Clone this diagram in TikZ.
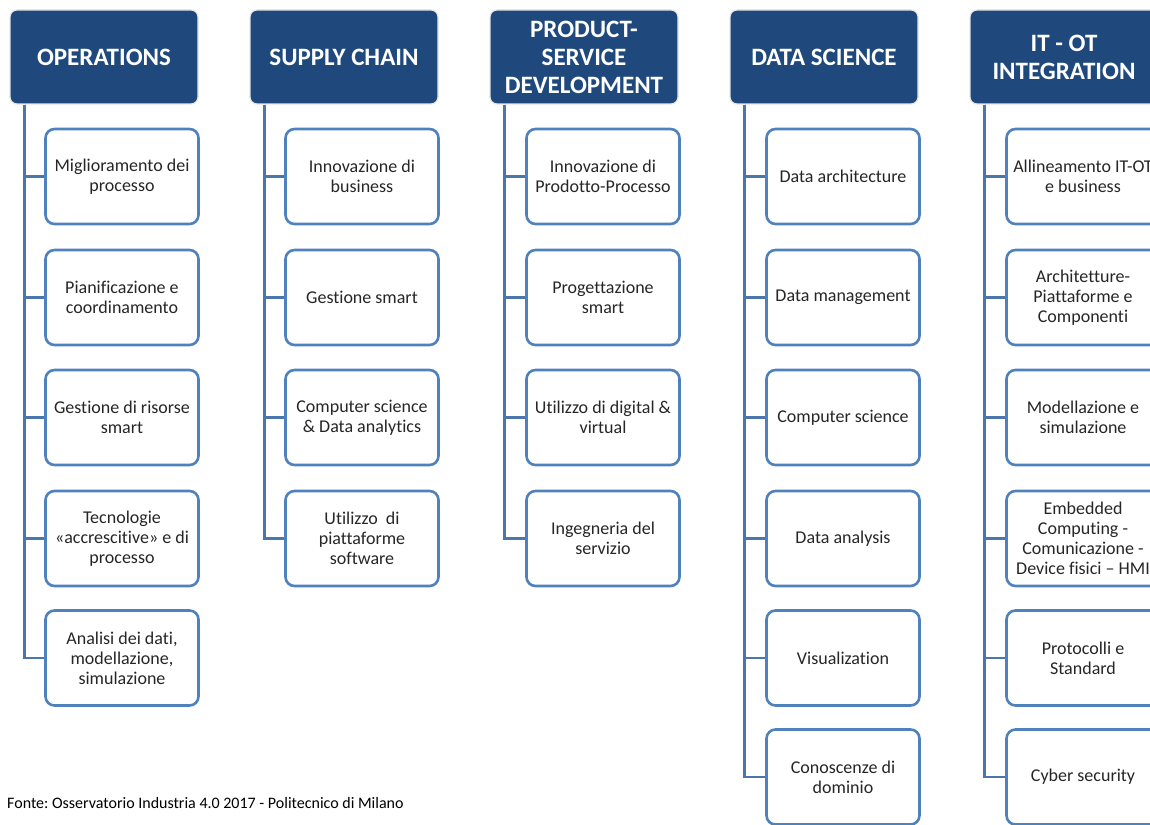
\documentclass[tikz,border=0pt]{standalone}
\usepackage{fontspec}
\setmainfont{Carlito}[Ligatures=NoCommon]
\frenchspacing
\definecolor{hdr}{HTML}{1F497D}
\definecolor{bord}{HTML}{4F81BD}
\definecolor{lnk}{HTML}{4A76AE}
\definecolor{txt}{HTML}{262626}
\begin{document}
\begin{tikzpicture}[x=1pt,y=-1pt,
 hdrbox/.style={rectangle, rounded corners=7pt, fill=hdr, draw=gray!20, line width=1.2pt, minimum width=188pt, minimum height=94pt, text=white, font=\fontsize{25}{28}\selectfont\bfseries, align=center, inner sep=0pt},
 item/.style={rectangle, rounded corners=9pt, fill=white, draw=bord, line width=2.6pt, minimum width=153pt, minimum height=95pt, text=txt, font=\fontsize{18}{20}\selectfont, align=center, inner sep=0pt},
 conn/.style={draw=lnk, line width=2.6pt}]
\useasboundingbox (0,0) rectangle (1150,824);
\clip (0,0) rectangle (1150,824);
% headers
\node[hdrbox] (h1) at (104,57) {OPERATIONS};
\node[hdrbox] (h2) at (344,57) {SUPPLY CHAIN};
\node[hdrbox] (h3) at (584,57) {PRODUCT-\\SERVICE\\DEVELOPMENT};
\node[hdrbox] (h4) at (824,57) {DATA SCIENCE};
\node[hdrbox] (h5) at (1064,57) {IT - OT\\INTEGRATION};
% OPERATIONS
\node[item] (a1) at (122,176.5) {Miglioramento dei\\processo};
\node[item] (a2) at (122,297.5) {Pianificazione e\\coordinamento};
\node[item] (a3) at (122,417.5) {Gestione di risorse\\smart};
\node[item] (a4) at (122,538.5) {Tecnologie\\«accrescitive» e di\\processo};
\node[item] (a5) at (122,658) {Analisi dei dati,\\modellazione,\\simulazione};
% SUPPLY CHAIN
\node[item] (b1) at (362,176.5) {Innovazione di\\business};
\node[item] (b2) at (362,297.5) {Gestione smart};
\node[item] (b3) at (362,417.5) {Computer science\\\& Data analytics};
\node[item] (b4) at (362,538.5) {Utilizzo~~di\\piattaforme\\software};
% PRODUCT-SERVICE
\node[item] (c1) at (603,176.5) {Innovazione di\\Prodotto-Processo};
\node[item] (c2) at (603,297.5) {Progettazione\\smart};
\node[item] (c3) at (603,417.5) {Utilizzo di digital \&\\virtual};
\node[item] (c4) at (603,538.5) {Ingegneria del\\servizio};
% DATA SCIENCE
\node[item] (d1) at (843,176.5) {Data architecture};
\node[item] (d2) at (843,297.5) {Data management};
\node[item] (d3) at (843,417.5) {Computer science};
\node[item] (d4) at (843,538.5) {Data analysis};
\node[item] (d5) at (843,658) {Visualization};
\node[item] (d6) at (843,777) {Conoscenze di\\dominio};
% IT-OT
\node[item] (e1) at (1083,176.5) {Allineamento IT-OT\\e business};
\node[item] (e2) at (1083,297.5) {Architetture-\\Piattaforme e\\Componenti};
\node[item] (e3) at (1083,417.5) {Modellazione e\\simulazione};
\node[item] (e4) at (1083,538.5) {Embedded\\Computing -\\Comunicazione -\\Device fisici -- HMI};
\node[item] (e5) at (1083,658) {Protocolli e\\Standard};
\node[item] (e6) at (1083,777) {Cyber security};
% connectors
\foreach \c in {a1,a2,a3,a4,a5} \draw[conn] ([xshift=15pt]h1.south west) |- (\c.west);
\foreach \c in {b1,b2,b3,b4} \draw[conn] ([xshift=15pt]h2.south west) |- (\c.west);
\foreach \c in {c1,c2,c3,c4} \draw[conn] ([xshift=15pt]h3.south west) |- (\c.west);
\foreach \c in {d1,d2,d3,d4,d5,d6} \draw[conn] ([xshift=15pt]h4.south west) |- (\c.west);
\foreach \c in {e1,e2,e3,e4,e5,e6} \draw[conn] ([xshift=15pt]h5.south west) |- (\c.west);
% source
\node[anchor=base west, inner sep=0pt, font=\fontsize{16}{18}\selectfont, text=black] (src) at (7,808) {Fonte: Osservatorio Industria 4.0 2017 - Politecnico di Milano};
\end{tikzpicture}
\end{document}
